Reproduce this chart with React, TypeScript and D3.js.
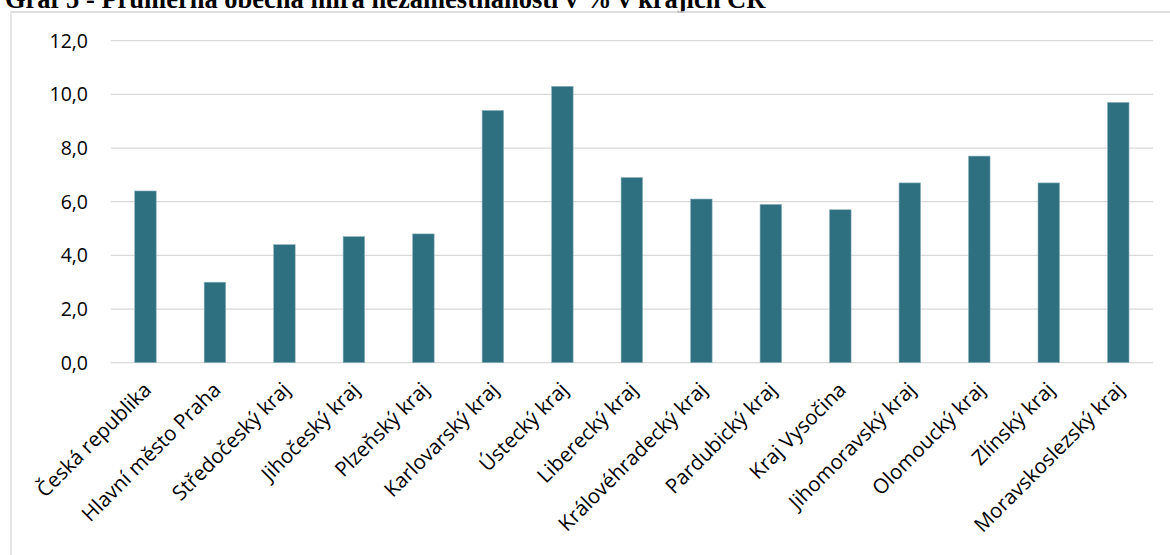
import React from "react";
import * as d3 from "d3";

const title = "Graf 5 - Průměrná obecná míra nezaměstnanosti v % v krajích ČR";
const categories = [
  "Česká republika",
  "Hlavní město Praha",
  "Středočeský kraj",
  "Jihočeský kraj",
  "Plzeňský kraj",
  "Karlovarský kraj",
  "Ústecký kraj",
  "Liberecký kraj",
  "Královéhradecký kraj",
  "Pardubický kraj",
  "Kraj Vysočina",
  "Jihomoravský kraj",
  "Olomoucký kraj",
  "Zlínský kraj",
  "Moravskoslezský kraj",
];
const values = [6.4, 3.0, 4.4, 4.7, 4.8, 9.4, 10.3, 6.9, 6.1, 5.9, 5.7, 6.7, 7.7, 6.7, 9.7];
const yTicks = [0, 2, 4, 6, 8, 10, 12];

export default function App() {
  const W = 1170, H = 555;
  const left = 110.7, right = 1153, top = 40.7, bottom = 362.7;
  const x = d3.scaleBand<string>().domain(categories).range([left, right]).paddingInner(0.69).paddingOuter(0.345);
  const y = d3.scaleLinear().domain([0, 12]).range([bottom, top]);
  const fmt = (v: number) => v.toFixed(1).replace(".", ",");
  const font = "'Open Sans', sans-serif";
  return (
    <svg width={W} height={H} style={{ position: "absolute", left: 0, top: 0, background: "#fff" }}>
      <rect x={11} y={12} width={W} height={H} fill="#fff" stroke="#d9d9d9" strokeWidth={1.3} />
      <text x={5} y={8} fontFamily="'Liberation Serif', 'Times New Roman', serif" fontWeight="bold" fontSize={26.5} fill="#000">
        {title}
      </text>
      <rect x={11.65} y={12.65} width={W} height={3} fill="#fff" />
      <line x1={11} x2={W} y1={12} y2={12} stroke="#d9d9d9" strokeWidth={1.3} />
      {yTicks.map((t) => (
        <g key={t}>
          <line x1={left} x2={right} y1={y(t)} y2={y(t)} stroke="#d9d9d9" strokeWidth={1.3} />
          <text x={88} y={y(t)} dy="0.36em" textAnchor="end" fontFamily={font} fontSize={19.5} fill="#000">
            {fmt(t)}
          </text>
        </g>
      ))}
      {categories.map((c, i) => (
        <rect
          key={c}
          x={x(c)}
          y={y(values[i])}
          width={x.bandwidth()}
          height={y(0) - y(values[i])}
          fill="#2E6F80"
          stroke="#8fb3bd"
          strokeWidth={0.6}
        />
      ))}
      {categories.map((c) => {
        const cx = (x(c) as number) + x.bandwidth() / 2;
        return (
          <text
            key={c}
            transform={`translate(${cx + 2},${386}) rotate(-45)`}
            textAnchor="end"
            dy="0.35em"
            fontFamily={font}
            fontSize={20.5}
            fill="#000"
          >
            {c}
          </text>
        );
      })}
    </svg>
  );
}
